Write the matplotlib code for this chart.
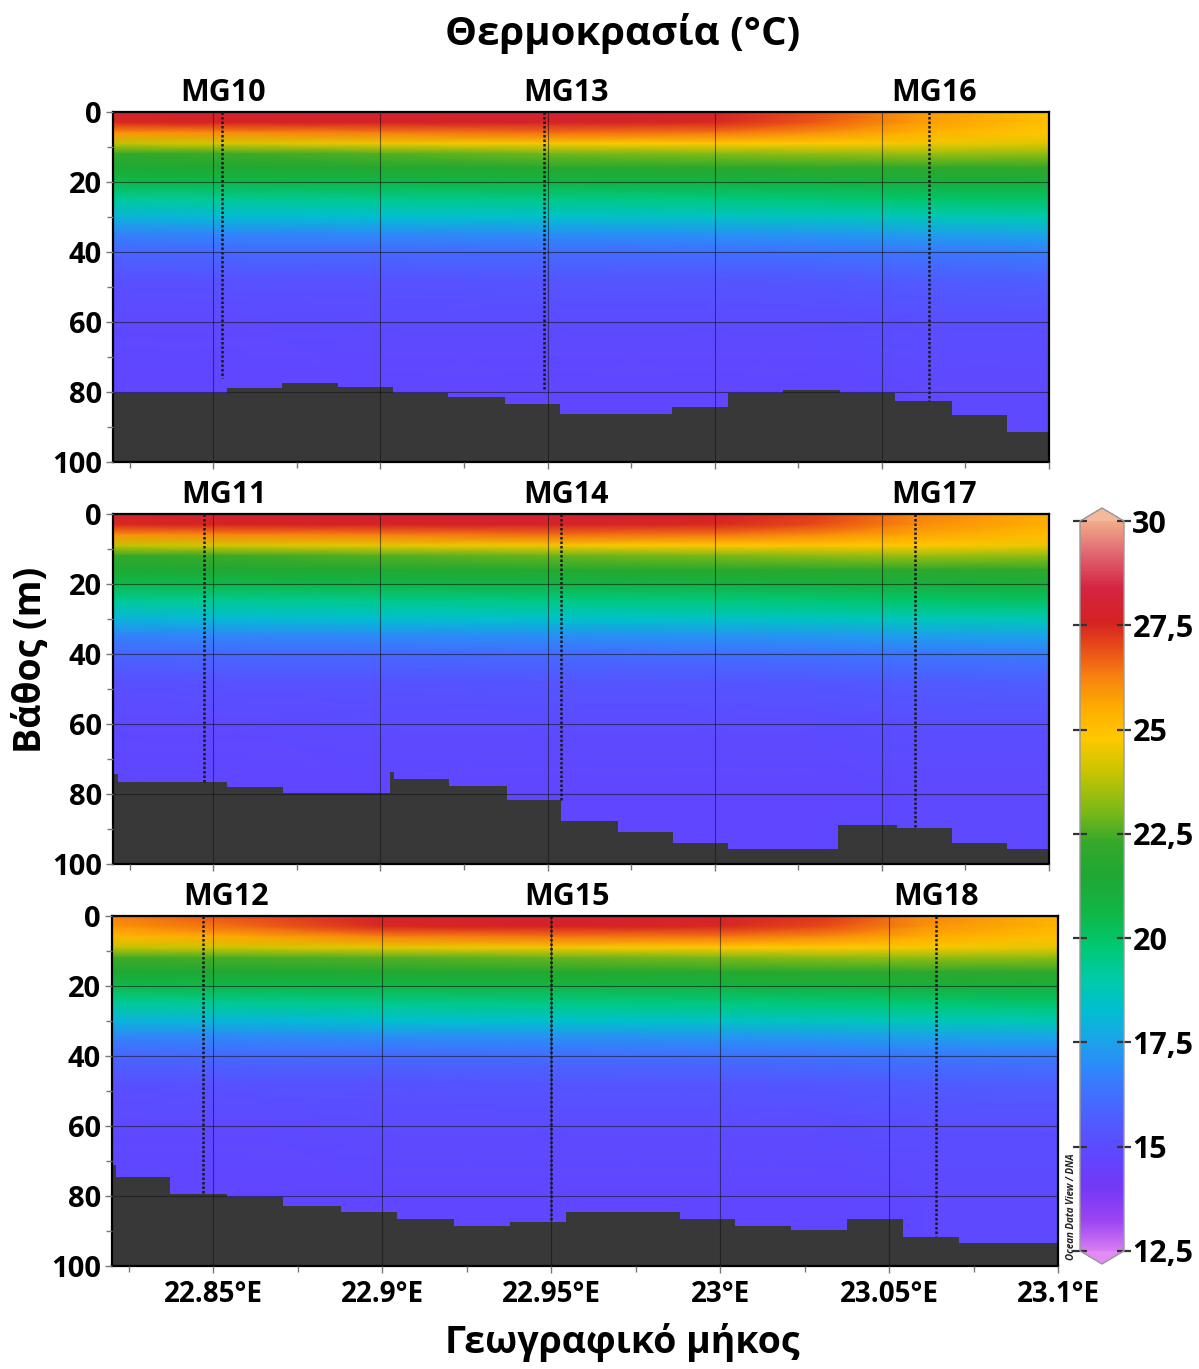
import matplotlib
matplotlib.use("Agg")
import matplotlib.pyplot as plt
import numpy as np
from matplotlib.colors import LinearSegmentedColormap, Normalize
from matplotlib.cm import ScalarMappable
from matplotlib.ticker import MultipleLocator, FixedLocator


# =====================================================================================================================


plt.rcParams["font.family"] = ["Open Sans", "DejaVu Sans"]
plt.rcParams["font.weight"] = "bold"

TITLE = "Θερμοκρασία (°C)"
Y_LABEL = "Βάθος (m)"
X_LABEL = "Γεωγραφικό μήκος"

LONS = [22.82, 22.86, 22.90, 22.95, 23.00, 23.03, 23.06, 23.10]
DEPTHS = [0, 3, 6, 9, 12, 16, 20, 25, 30, 35, 40, 48, 60, 80, 100]

# temperature profiles (one row per longitude above, values at DEPTHS)
TEMP_TOP = [
    [27.9, 27.5, 25.9, 23.9, 22.2, 21.4, 20.5, 19.2, 18.0, 16.7, 15.9, 15.2, 14.9, 14.8, 14.8],
    [28.0, 27.6, 26.1, 24.2, 22.4, 21.5, 20.6, 19.3, 18.2, 16.8, 16.0, 15.3, 14.9, 14.8, 14.8],
    [28.0, 27.7, 26.3, 24.5, 22.6, 21.6, 20.7, 19.4, 18.3, 16.9, 16.0, 15.3, 15.0, 14.8, 14.8],
    [28.0, 27.8, 26.5, 24.7, 22.9, 21.7, 20.8, 19.5, 18.4, 17.0, 16.1, 15.4, 15.0, 14.8, 14.8],
    [27.8, 27.5, 26.4, 24.8, 23.1, 21.8, 20.9, 19.6, 18.5, 17.1, 16.2, 15.4, 15.0, 14.8, 14.8],
    [27.0, 26.8, 26.0, 24.8, 23.3, 21.9, 21.0, 19.7, 18.6, 17.2, 16.3, 15.5, 15.0, 14.8, 14.8],
    [25.9, 25.8, 25.4, 24.6, 23.4, 22.0, 21.1, 19.9, 18.7, 17.4, 16.4, 15.6, 15.1, 14.9, 14.9],
    [25.0, 25.0, 24.8, 24.3, 23.3, 22.1, 21.2, 20.0, 18.9, 17.6, 16.6, 15.7, 15.1, 14.9, 14.9],
]
TEMP_MID = [
    [27.9, 27.5, 26.0, 23.9, 22.2, 21.4, 20.5, 19.2, 18.0, 16.7, 15.9, 15.2, 14.9, 14.8, 14.8],
    [28.0, 27.6, 26.2, 24.2, 22.4, 21.5, 20.6, 19.3, 18.2, 16.8, 16.0, 15.3, 14.9, 14.8, 14.8],
    [28.0, 27.7, 26.3, 24.4, 22.6, 21.6, 20.7, 19.4, 18.3, 16.9, 16.0, 15.3, 15.0, 14.8, 14.8],
    [28.0, 27.8, 26.5, 24.6, 22.8, 21.7, 20.8, 19.5, 18.4, 17.0, 16.1, 15.4, 15.0, 14.8, 14.8],
    [27.8, 27.5, 26.4, 24.8, 23.0, 21.8, 20.9, 19.6, 18.5, 17.1, 16.2, 15.4, 15.0, 14.8, 14.8],
    [27.2, 27.0, 26.1, 24.9, 23.2, 21.9, 21.0, 19.7, 18.6, 17.2, 16.3, 15.5, 15.0, 14.8, 14.8],
    [26.3, 26.1, 25.6, 24.8, 23.4, 22.0, 21.1, 19.9, 18.7, 17.4, 16.4, 15.6, 15.1, 14.9, 14.9],
    [25.5, 25.4, 25.1, 24.5, 23.3, 22.1, 21.2, 20.0, 18.8, 17.5, 16.5, 15.7, 15.1, 14.9, 14.9],
]
TEMP_BOT = [
    [26.3, 25.9, 25.2, 23.9, 22.4, 21.5, 20.5, 19.2, 18.0, 16.7, 15.9, 15.2, 14.9, 14.8, 14.8],
    [27.0, 26.6, 25.6, 24.1, 22.5, 21.5, 20.6, 19.3, 18.1, 16.8, 16.0, 15.3, 14.9, 14.8, 14.8],
    [27.8, 27.5, 26.2, 24.4, 22.6, 21.6, 20.7, 19.4, 18.3, 16.9, 16.0, 15.3, 15.0, 14.8, 14.8],
    [28.0, 27.7, 26.4, 24.6, 22.8, 21.7, 20.8, 19.5, 18.4, 17.0, 16.1, 15.4, 15.0, 14.8, 14.8],
    [27.9, 27.5, 26.4, 24.8, 23.0, 21.8, 20.9, 19.6, 18.5, 17.1, 16.2, 15.4, 15.0, 14.8, 14.8],
    [27.3, 27.0, 26.1, 24.8, 23.2, 21.9, 21.0, 19.7, 18.6, 17.2, 16.3, 15.5, 15.0, 14.8, 14.8],
    [26.2, 26.0, 25.5, 24.7, 23.3, 22.0, 21.1, 19.8, 18.7, 17.4, 16.4, 15.6, 15.1, 14.9, 14.9],
    [25.4, 25.3, 25.0, 24.4, 23.2, 22.1, 21.2, 19.9, 18.8, 17.5, 16.5, 15.7, 15.1, 14.9, 14.9],
]

# seabed steps (edges in longitude, depth of each step)
BED_EDGES_TOP = [22.820, 22.854, 22.8706, 22.8873, 22.9038, 22.9202, 22.9373, 22.9537, 22.9872, 23.0040,
                 23.0204, 23.0375, 23.0539, 23.0710, 23.0874, 23.100]
BED_DEPTH_TOP = [80.4, 78.8, 77.5, 78.6, 80.4, 81.5, 83.5, 86.3, 84.4, 80.4, 79.5, 80.4, 82.6, 86.6, 91.5]

BED_EDGES_MID = [22.820, 22.8215, 22.854, 22.8709, 22.9029, 22.9042, 22.9205, 22.9379, 22.9540, 22.9711,
                 22.9875, 23.0040, 23.0369, 23.0545, 23.0710, 23.0874, 23.100]
BED_DEPTH_MID = [74.3, 76.6, 78.0, 79.8, 73.8, 75.7, 77.7, 81.7, 87.7, 90.9, 94.0, 95.7, 88.9, 89.7, 94.0, 95.7]

BED_EDGES_BOT = [22.820, 22.8212, 22.8372, 22.8540, 22.8706, 22.8878, 22.9044, 22.9212, 22.9378, 22.9544,
                 22.9881, 23.0044, 23.0210, 23.0375, 23.0541, 23.0707, 23.100]
BED_DEPTH_BOT = [71.0, 74.6, 79.4, 80.3, 82.8, 84.6, 86.5, 88.6, 87.4, 84.6, 86.6, 88.6, 89.7, 86.6, 91.6, 93.4]

# stations: name, label longitude, cast longitude, cast end depth
STATIONS_TOP = [("MG10", 22.8529, 22.8526, 76.0), ("MG13", 22.9555, 22.9490, 79.5), ("MG16", 23.0656, 23.0640, 82.6)]
STATIONS_MID = [("MG11", 22.8532, 22.8472, 76.5), ("MG14", 22.9555, 22.9540, 81.7), ("MG17", 23.0656, 23.0600, 89.7)]
STATIONS_BOT = [("MG12", 22.8537, 22.8470, 79.4), ("MG15", 22.9547, 22.9500, 87.0), ("MG18", 23.0639, 23.0640, 91.5)]

X_TICKS = [22.85, 22.9, 22.95, 23.0, 23.05, 23.1]
X_TICK_LABELS = ["22.85°E", "22.9°E", "22.95°E", "23°E", "23.05°E", "23.1°E"]
Y_TICKS = [0, 20, 40, 60, 80, 100]

CB_TICKS = [12.5, 15, 17.5, 20, 22.5, 25, 27.5, 30]
CB_TICK_LABELS = ["12,5", "15", "17,5", "20", "22,5", "25", "27,5", "30"]

# ODV-like palette (value, colour)
PALETTE = [
    (12.5, "#d67cf2"), (13.2, "#9c45f2"), (14.0, "#7438f6"), (14.8, "#6046ff"), (15.5, "#5258ff"),
    (16.3, "#3f72ff"), (17.0, "#2a8ef7"), (17.6, "#18a6e8"), (18.3, "#00bfd0"), (19.0, "#00cba8"),
    (19.8, "#00c872"), (20.5, "#0fb84a"), (21.5, "#1fa833"), (22.3, "#35a82a"), (23.0, "#78b818"),
    (24.0, "#c9c500"), (24.8, "#ffc800"), (25.5, "#ffae00"), (26.3, "#f78010"), (27.0, "#e84a18"),
    (27.6, "#d42222"), (28.4, "#d42442"), (29.2, "#e0646f"), (30.0, "#f2aa8a"),
]


# =====================================================================================================================


vmin, vmax = 12.5, 30.0
cmap = LinearSegmentedColormap.from_list(
    "odv", [((v - vmin) / (vmax - vmin), c) for v, c in PALETTE], N=512)
cmap.set_over("#f4b89c")
cmap.set_under("#e08cf4")
norm = Normalize(vmin=vmin, vmax=vmax)

W, H = 1199, 1369
fig = plt.figure(figsize=(W / 100, H / 100), dpi=100)


def px_axes(left, top, right, bottom):
    return fig.add_axes([left / W, 1 - bottom / H, (right - left) / W, (bottom - top) / H])


def draw_panel(ax, temp, bed_edges, bed_depth, stations, show_x):
    lon_g, dep_g = np.meshgrid(LONS, DEPTHS)
    ax.pcolormesh(lon_g, dep_g, np.array(temp).T, cmap=cmap, norm=norm, shading="gouraud", zorder=0)
    ax.stairs(bed_depth, bed_edges, baseline=100, fill=True, color="#383838", zorder=1)

    for name, lab_lon, cast_lon, cast_end in stations:
        ax.plot([cast_lon, cast_lon], [0, cast_end], color="#1a1a1a", lw=1.8, ls=(0, (1, 0.8)), zorder=3)
        ax.text(lab_lon, -1.2, name, ha="center", va="bottom", fontsize=22, fontweight="bold")

    ax.set_xlim(22.82, 23.10)
    ax.set_ylim(100, 0)
    ax.xaxis.set_major_locator(FixedLocator(X_TICKS))
    ax.xaxis.set_minor_locator(MultipleLocator(0.025))
    ax.yaxis.set_major_locator(FixedLocator(Y_TICKS))
    ax.yaxis.set_minor_locator(MultipleLocator(10))
    ax.set_yticklabels([str(t) for t in Y_TICKS])
    if show_x:
        ax.set_xticklabels(X_TICK_LABELS)
    else:
        ax.set_xticklabels([])
    ax.tick_params(which="both", direction="out", color="#777777", width=1.0)
    ax.tick_params(which="major", length=5, labelsize=21, pad=3)
    ax.tick_params(which="minor", length=4)
    ax.tick_params(axis="x", which="major", labelsize=20, pad=5)

    ax.set_axisbelow(False)
    ax.grid(True, which="major", color="#101010", lw=0.8, alpha=0.55)
    for s in ax.spines.values():
        s.set_linewidth(1.6)
        s.set_color("black")


ax1 = px_axes(113, 112, 1049, 462)
draw_panel(ax1, TEMP_TOP, BED_EDGES_TOP, BED_DEPTH_TOP, STATIONS_TOP, False)
ax2 = px_axes(113, 514, 1049, 864)
draw_panel(ax2, TEMP_MID, BED_EDGES_MID, BED_DEPTH_MID, STATIONS_MID, False)
ax3 = px_axes(112, 916, 1058, 1266)
draw_panel(ax3, TEMP_BOT, BED_EDGES_BOT, BED_DEPTH_BOT, STATIONS_BOT, True)

# colour bar
cax = px_axes(1080, 508, 1124, 1264)
cb = fig.colorbar(ScalarMappable(norm=norm, cmap=cmap), cax=cax, extend="both", extendfrac=0.018,
                  ticks=CB_TICKS)
cb.set_ticklabels(CB_TICK_LABELS)
cb.outline.set_edgecolor("#999999")
cb.outline.set_linewidth(1.0)
cax.tick_params(which="major", left=True, right=True, direction="inout", length=10, width=1.6,
                color="#333333", labelsize=22, pad=1)
cax.minorticks_off()

fig.text(1071 / W, 1 - 1207 / H, "Ocean Data View / DNA", rotation=90, ha="center", va="center",
         fontsize=7, style="italic", color="#222222")

# titles
fig.text(623 / W, 1 - 33 / H, TITLE, ha="center", va="center", fontsize=29, fontweight="bold")
fig.text(31 / W, 1 - 660 / H, Y_LABEL, ha="center", va="center", rotation=90, fontsize=27, fontweight="bold")
fig.text(622 / W, 1 - 1343 / H, X_LABEL, ha="center", va="center", fontsize=27, fontweight="bold")

plt.savefig("out.png", dpi=100)
